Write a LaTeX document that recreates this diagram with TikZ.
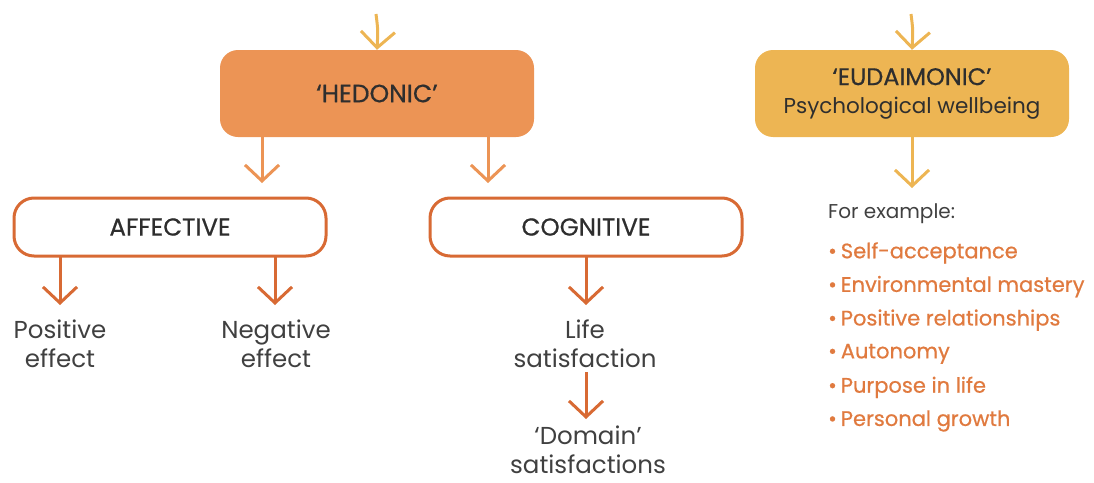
\documentclass[tikz,border=0pt]{standalone}
\usepackage{fontspec}
\setmainfont{Poppins}
\usetikzlibrary{arrows.meta}
\definecolor{hedfill}{HTML}{EC9455}
\definecolor{eudfill}{HTML}{EDB553}
\definecolor{rust}{HTML}{D86A34}
\definecolor{listtxt}{HTML}{E07A3F}
\definecolor{ink}{HTML}{2E2E2E}
\definecolor{greytxt}{HTML}{404040}
\newcommand{\med}{\addfontfeatures{FakeBold=0.6}}
\begin{document}
\begin{tikzpicture}[x=1pt,y=-1pt,
  tip/.style={-{Straight Barb[length=16pt,width=34pt]}, line width=3pt},
  bigbox/.style={rounded corners=18pt, minimum width=314pt, minimum height=87pt, inner sep=0pt, align=center, text=ink},
  outbox/.style={draw=rust, line width=3pt, fill=white, rounded corners=20pt, minimum width=312pt, minimum height=58pt, inner sep=0pt, text=ink, font=\fontsize{24.5}{28}\selectfont\med},
  leaf/.style={align=center, text=greytxt, font=\fontsize{24.5}{29}\selectfont, inner sep=0pt},
  item/.style={anchor=west, text=listtxt, font=\fontsize{21}{25}\selectfont\med, inner sep=0pt}]
\useasboundingbox (0,0) rectangle (1094,482);

% top-level boxes
\node[bigbox, fill=hedfill, font=\fontsize{25}{28}\selectfont\med] (hed) at (377,93.5) {‘HEDONIC’};
\node[bigbox, fill=eudfill, font=\fontsize{21.5}{28}\selectfont] (eud) at (912,93.5)
  {{\fontsize{24}{28}\selectfont\med ‘EUDAIMONIC’}\\Psychological wellbeing};

% incoming arrows
\coordinate (hin) at (376,14);
\coordinate (ein) at (911,14);
\draw[tip, color=eudfill] (hin) .. controls (378,30) .. (hed.north);
\draw[tip, color=eudfill] (ein) .. controls (913,30) .. (eud.north);

% second level
\node[outbox] (aff) at (170,227) {AFFECTIVE};
\node[outbox] (cog) at (586,227) {COGNITIVE};
\draw[tip, color=hedfill] (262,137) -- (262,183);
\draw[tip, color=hedfill] (488,137) -- (488,183);

% affective outcomes
\node[leaf] (pos) at (60,344) {Positive\\effect};
\node[leaf] (neg) at (276,344) {Negative\\effect};
\draw[tip, color=rust] (60,256) -- (60,305);
\draw[tip, color=rust] (275,256) -- (275,305);

% cognitive outcomes
\node[leaf] (life) at (585,344) {Life\\satisfaction};
\node[leaf] (dom) at (588,450) {‘Domain’\\satisfactions};
\draw[tip, color=rust] (586,256) -- (586,305);
\draw[tip, color=rust] (586,372) -- (586,419);

% eudaimonic examples
\draw[tip, color=eudfill] (eud.south) -- (912,188);
\node[anchor=west, inner sep=0pt, text=greytxt, font=\fontsize{20}{24}\selectfont] (fe) at (828,214) {For example:};
\foreach \t [count=\i] in {Self-acceptance, Environmental mastery, Positive relationships, Autonomy, Purpose in life, Personal growth}{
  \node[item] (it\i) at (828,{253+33.6*(\i-1)}) {•\hspace{4pt}\t};
}
\end{tikzpicture}
\end{document}
